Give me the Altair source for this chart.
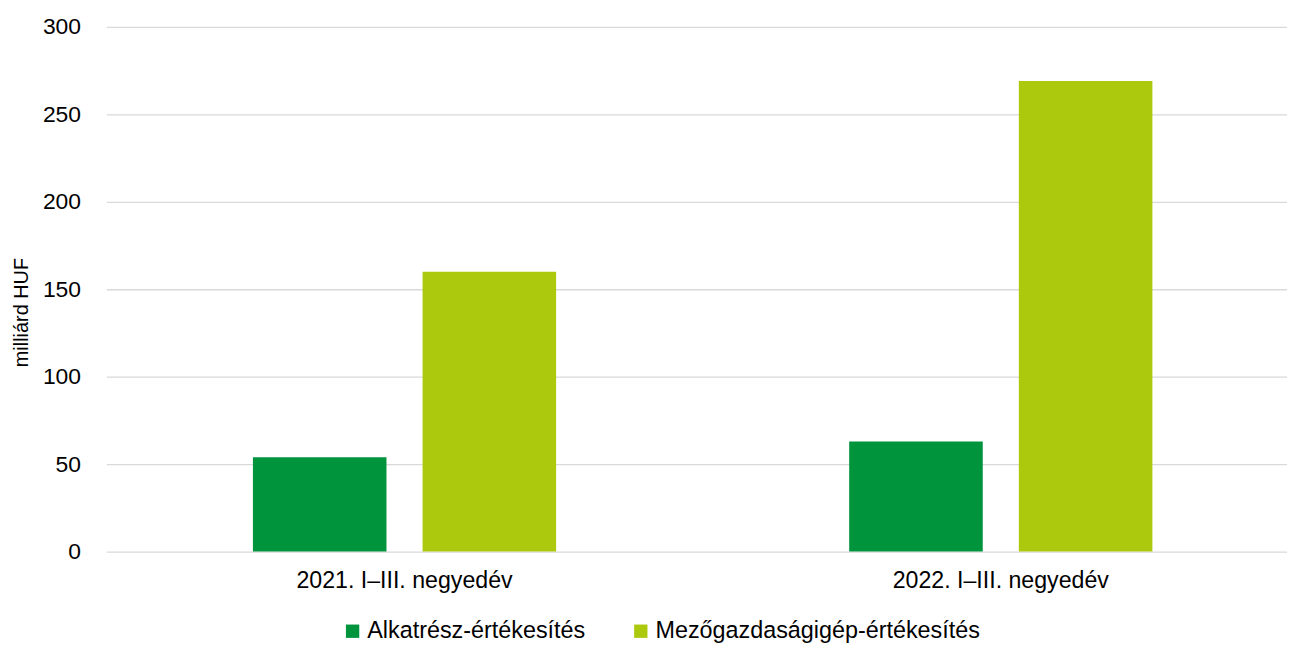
import altair as alt
import pandas as pd

categories = ["2021. I–III. negyedév", "2022. I–III. negyedév"]
series = ["Alkatrész-értékesítés", "Mezőgazdaságigép-értékesítés"]
alkatresz = [54, 63]
mezogazdasagi = [160, 269]
colors = ["#00943D", "#ADC90E"]

rows = []
for i, c in enumerate(categories):
    rows.append({"cat": c, "series": series[0], "value": alkatresz[i]})
    rows.append({"cat": c, "series": series[1], "value": mezogazdasagi[i]})
df = pd.DataFrame(rows)

FONT = "Liberation Sans"

chart = alt.Chart(df).mark_bar().encode(
    x=alt.X("cat:N", sort=categories, title=None,
            scale=alt.Scale(paddingInner=0, paddingOuter=0, range=[0, 1200]),
            axis=alt.Axis(labelAngle=0, labelFontSize=23.3, labelColor="#000000",
                          labelFont=FONT, ticks=False, domain=False, labelLimit=1000,
                          labelPadding=18)),
    xOffset=alt.XOffset("series:N", sort=series,
                        scale=alt.Scale(paddingInner=0.2127, paddingOuter=0.8638)),
    y=alt.Y("value:Q", title="milliárd HUF",
            scale=alt.Scale(domain=[0, 300]),
            axis=alt.Axis(values=[0, 50, 100, 150, 200, 250, 300], ticks=False,
                          domain=False, gridColor="#d9d9d9", gridWidth=1.3,
                          labelFontSize=23, labelColor="#000000", labelFont=FONT,
                          labelPadding=26, titleFont=FONT, titleFontSize=20,
                          titleFontWeight="normal", titleColor="#000000",
                          titlePadding=11, titleY=287)),
    color=alt.Color("series:N", sort=series,
                    scale=alt.Scale(domain=series, range=colors),
                    legend=alt.Legend(orient="none", legendX=236, legendY=596,
                                      title=None, direction="horizontal",
                                      symbolType="square", symbolSize=180,
                                      symbolStrokeWidth=0, labelFontSize=23.5,
                                      labelFont=FONT, labelColor="#000000",
                                      columnPadding=44, labelLimit=600, labelOffset=3)),
).properties(
    width=1180, height=528,
    autosize=alt.AutoSizeParams(type="none"),
    padding={"left": 99, "top": 17, "right": 8, "bottom": 92}
).configure_view(stroke=None)

chart.save("out.html", embed_options={"renderer": "svg", "actions": False})
